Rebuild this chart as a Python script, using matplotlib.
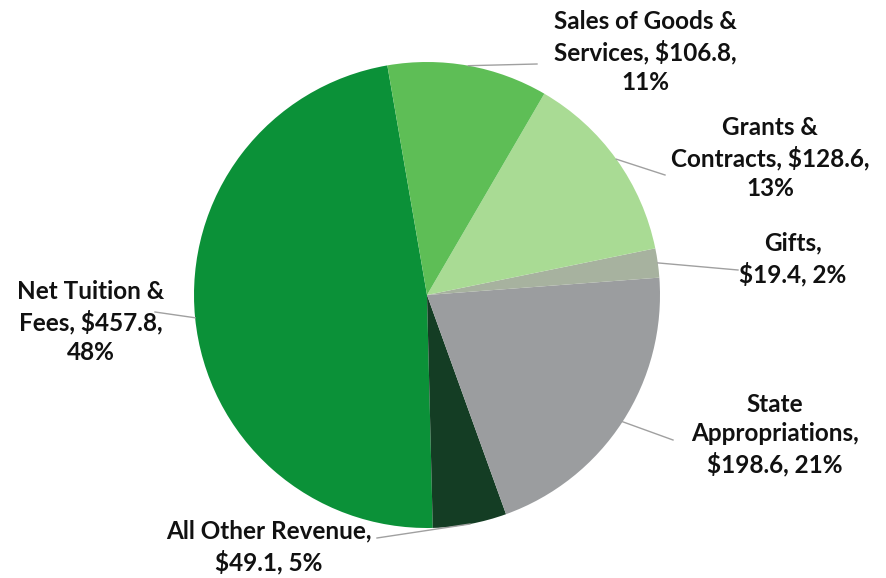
import numpy as np
import matplotlib.pyplot as plt

# revenue sources, in pie order (counter-clockwise from the top)
categories = ["Net Tuition &\nFees", "All Other Revenue", "State\nAppropriations",
              "Gifts", "Grants &\nContracts", "Sales of Goods &\nServices"]
amounts = [457.8, 49.1, 198.6, 19.4, 128.6, 106.8]
percents = [48, 5, 21, 2, 13, 11]
label_texts = [
    "Net Tuition &\nFees, $457.8,\n48%",
    "All Other Revenue,\n$49.1, 5%",
    "State\nAppropriations,\n$198.6, 21%",
    "Gifts,\n$19.4, 2%",
    "Grants &\nContracts, $128.6,\n13%",
    "Sales of Goods &\nServices, $106.8,\n11%",
]
colors = ["#0b9138", "#143d24", "#9b9d9f", "#a7b29f", "#a9db94", "#5ebe56"]

W, H = 887, 578
CX, CY, R = 427, 295, 233

fig = plt.figure(figsize=(W / 100, H / 100), dpi=100)
ax = fig.add_axes([(CX - R) / W, (H - CY - R) / H, 2 * R / W, 2 * R / H])

wedges, _ = ax.pie(amounts, colors=colors, startangle=99.8, counterclock=True,
                   radius=1, wedgeprops=dict(linewidth=0))
ax.set_xlim(-1, 1)
ax.set_ylim(-1, 1)
ax.set_aspect("equal")
ax.axis("off")


def to_data(px, py):
    return (px - CX) / R, (CY - py) / R


# label centres and leader-line ends, in pixel space of the original image
text_pos = [(91, 322), (269, 547), (775, 435), (793, 259), (770, 158), (645, 52)]
line_end = [(155, 312), (377, 538), (673, 440), (738, 270), (665, 175), (537, 64)]

for w, txt, tp, le in zip(wedges, label_texts, text_pos, line_end):
    mid = np.deg2rad((w.theta1 + w.theta2) / 2)
    start = (np.cos(mid), np.sin(mid))
    end = to_data(*le)
    ax.plot([start[0], end[0]], [start[1], end[1]], color="#a0a0a0", lw=1,
            clip_on=False)
    tx, ty = to_data(*tp)
    ax.text(tx, ty, txt, ha="center", va="center", fontsize=17.5,
            fontweight="bold", family="Lato", linespacing=1.32, color="#111111",
            clip_on=False)

fig.savefig("out.png", dpi=100, facecolor="white")
